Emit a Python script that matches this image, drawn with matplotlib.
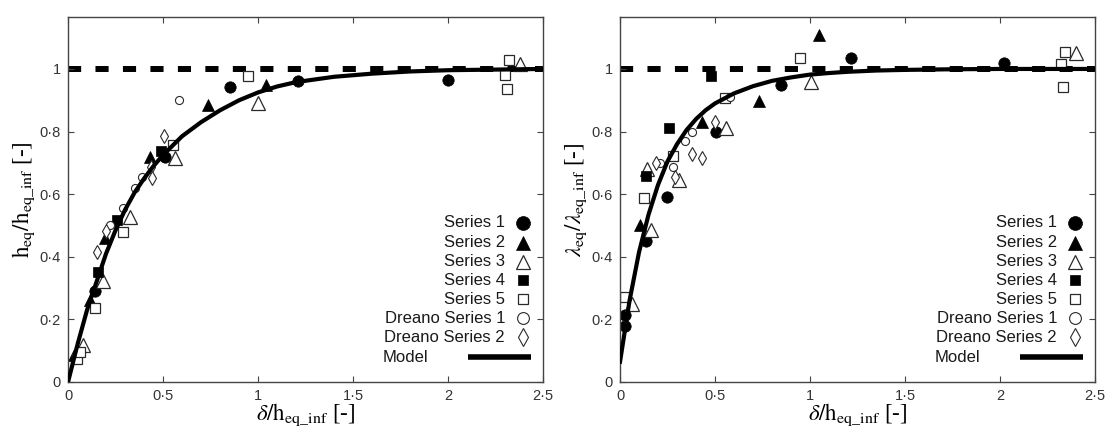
import matplotlib
matplotlib.use("Agg")
import matplotlib.pyplot as plt
from matplotlib.ticker import FuncFormatter

plt.rcParams["font.family"] = ["Liberation Sans", "DejaVu Sans"]
plt.rcParams["mathtext.fontset"] = "stix"

# ---- left panel: h_eq / h_eq_inf ----
h_s1_x = [0.14, 0.51, 0.85, 1.21, 2.00]
h_s1_y = [0.29, 0.72, 0.943, 0.96, 0.965]
h_s2_x = [0.03, 0.115, 0.195, 0.43, 0.735, 1.04]
h_s2_y = [0.085, 0.262, 0.46, 0.72, 0.885, 0.949]
h_s3_x = [0.077, 0.184, 0.325, 0.565, 1.0, 2.38]
h_s3_y = [0.118, 0.323, 0.528, 0.716, 0.89, 1.016]
h_s4_x = [0.157, 0.257, 0.487]
h_s4_y = [0.35, 0.518, 0.738]
h_s5_x = [0.047, 0.063, 0.142, 0.29, 0.55, 0.948, 2.30, 2.31, 2.32]
h_s5_y = [0.072, 0.096, 0.236, 0.48, 0.757, 0.978, 0.981, 0.936, 1.027]
h_d1_x = [0.22, 0.287, 0.35, 0.387, 0.586]
h_d1_y = [0.50, 0.556, 0.62, 0.655, 0.90]
h_d2_x = [0.152, 0.20, 0.435, 0.44, 0.503]
h_d2_y = [0.416, 0.482, 0.688, 0.652, 0.786]
h_model_x = [0, 0.05, 0.1, 0.15, 0.2, 0.25, 0.3, 0.35, 0.4, 0.45, 0.5, 0.6, 0.7, 0.8, 0.9,
             1.0, 1.1, 1.2, 1.4, 1.6, 1.8, 2.0, 2.5]
h_model_y = [0, 0.12, 0.23, 0.32, 0.41, 0.485, 0.55, 0.605, 0.65, 0.69, 0.725, 0.785, 0.83,
             0.868, 0.9, 0.925, 0.944, 0.958, 0.975, 0.985, 0.992, 0.996, 1.0]

# ---- right panel: lambda_eq / lambda_eq_inf ----
l_s1_x = [0.027, 0.027, 0.138, 0.245, 0.505, 0.846, 1.213, 2.02]
l_s1_y = [0.214, 0.18, 0.45, 0.59, 0.80, 0.949, 1.035, 1.018]
l_s2_x = [0.106, 0.43, 0.73, 1.048]
l_s2_y = [0.50, 0.83, 0.898, 1.109]
l_s3_x = [0.064, 0.14, 0.165, 0.31, 0.56, 1.005, 2.40]
l_s3_y = [0.25, 0.68, 0.486, 0.645, 0.81, 0.958, 1.05]
l_s4_x = [0.138, 0.255, 0.479]
l_s4_y = [0.658, 0.81, 0.978]
l_s5_x = [0.027, 0.128, 0.277, 0.553, 0.947, 2.34, 2.32, 2.33]
l_s5_y = [0.27, 0.588, 0.722, 0.907, 1.035, 1.054, 1.015, 0.943]
l_d1_x = [0.21, 0.28, 0.34, 0.38, 0.58]
l_d1_y = [0.70, 0.687, 0.77, 0.80, 0.91]
l_d2_x = [0.19, 0.29, 0.38, 0.43, 0.50]
l_d2_y = [0.70, 0.655, 0.728, 0.715, 0.83]
l_model_x = [0, 0.05, 0.1, 0.15, 0.2, 0.25, 0.3, 0.35, 0.4, 0.45, 0.5, 0.6, 0.7, 0.8, 0.9,
             1.0, 1.1, 1.2, 1.35, 1.5, 1.75, 2.0, 2.5]
l_model_y = [0.065, 0.26, 0.415, 0.535, 0.63, 0.705, 0.76, 0.805, 0.84, 0.868, 0.89, 0.922,
             0.945, 0.962, 0.973, 0.982, 0.987, 0.991, 0.995, 0.997, 0.999, 1.0, 1.0]

labels = ["Series 1", "Series 2", "Series 3", "Series 4", "Series 5",
          "Dreano Series 1", "Dreano Series 2"]

EDGE = "#2a2a2a"
styles = [
    dict(marker="o", ms=8.2, mfc="black", mec="black", mew=0.5),
    dict(marker="^", ms=9, mfc="black", mec="black", mew=0.5),
    dict(marker="^", ms=9.5, mfc="white", mec=EDGE, mew=0.9),
    dict(marker="s", ms=7, mfc="black", mec="black", mew=0.5),
    dict(marker="s", ms=7, mfc="white", mec=EDGE, mew=0.9),
    dict(marker="o", ms=5.8, mfc="white", mec=EDGE, mew=0.8),
    dict(marker="d", ms=6.8, mfc="white", mec=EDGE, mew=0.8),
]
key_ms = [10, 10.5, 10.5, 7.5, 7.5, 8.5, 9]


def fmt(v, pos):
    return ("%g" % round(v, 2)).replace(".", "\u00b7")


def plot_panel(ax, series, model_x, model_y, ylabel):
    for (x, y), st in zip(series, styles):
        ax.plot(x, y, ls="none", zorder=2, **st)
    ax.plot([0, 2.5], [1, 1], color="black", lw=4.3, dashes=(2.2, 2.4), zorder=1)
    ax.plot(model_x, model_y, color="black", lw=3, zorder=3, solid_joinstyle="round")

    ax.set_xlim(0, 2.5)
    ax.set_ylim(0, 1.166)
    ax.set_xticks([0, 0.5, 1, 1.5, 2, 2.5])
    ax.set_yticks([0, 0.2, 0.4, 0.6, 0.8, 1])
    ax.xaxis.set_major_formatter(FuncFormatter(fmt))
    ax.yaxis.set_major_formatter(FuncFormatter(fmt))
    ax.tick_params(direction="in", length=4, top=True, right=True, labelsize=10.5,
                   labelcolor="#333333", color="#444444", pad=5)
    for s in ax.spines.values():
        s.set_color("#444444")
        s.set_linewidth(1.0)

    ax.set_xlabel(r"$\delta/\mathrm{h}_{\mathrm{eq\_inf}}$ [-]", fontsize=16.5,
                  family="Liberation Serif", labelpad=-1)
    ax.set_ylabel(ylabel, fontsize=16.5, family="Liberation Serif", labelpad=2)

    # key, drawn gnuplot-style: text right-justified, symbol to its right
    rows = [0.436, 0.381, 0.329, 0.279, 0.227, 0.175, 0.123]
    for lab, st, ms, yy in zip(labels, styles, key_ms, rows):
        ax.text(0.92, yy, lab, transform=ax.transAxes, ha="right", va="center",
                fontsize=12, color="#1a1a1a")
        big = dict(st)
        big["ms"] = ms
        ax.plot([0.958], [yy], transform=ax.transAxes, ls="none", clip_on=False, **big)
    ax.text(0.663, 0.068, "Model", transform=ax.transAxes, ha="left", va="center",
            fontsize=12, color="#1a1a1a")
    ax.plot([0.842, 0.975], [0.068, 0.068], transform=ax.transAxes, color="black", lw=4,
            solid_capstyle="butt")


fig = plt.figure(figsize=(11.1, 4.29), dpi=100)
ax1 = fig.add_axes([0.0613, 0.1096, 0.428, 0.8508])
ax2 = fig.add_axes([0.5586, 0.1096, 0.428, 0.8508])

plot_panel(ax1,
           [(h_s1_x, h_s1_y), (h_s2_x, h_s2_y), (h_s3_x, h_s3_y), (h_s4_x, h_s4_y),
            (h_s5_x, h_s5_y), (h_d1_x, h_d1_y), (h_d2_x, h_d2_y)],
           h_model_x, h_model_y,
           r"$\mathrm{h}_{\mathrm{eq}}/\mathrm{h}_{\mathrm{eq\_inf}}$ [-]")
plot_panel(ax2,
           [(l_s1_x, l_s1_y), (l_s2_x, l_s2_y), (l_s3_x, l_s3_y), (l_s4_x, l_s4_y),
            (l_s5_x, l_s5_y), (l_d1_x, l_d1_y), (l_d2_x, l_d2_y)],
           l_model_x, l_model_y,
           r"$\lambda_{\mathrm{eq}}/\lambda_{\mathrm{eq\_inf}}$ [-]")

fig.savefig("out.png", dpi=100)
plt.close(fig)
